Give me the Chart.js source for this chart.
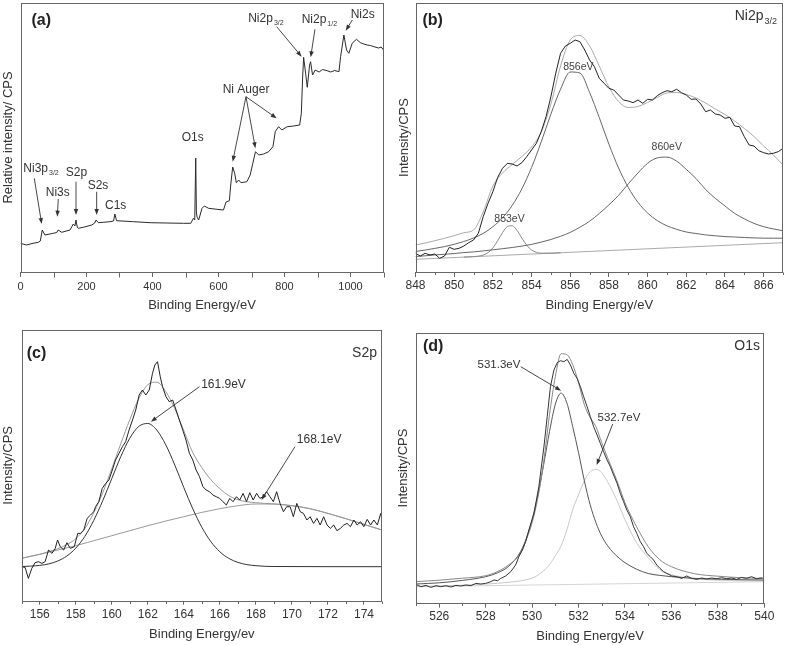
<!DOCTYPE html>
<html>
<head>
<meta charset="utf-8">
<script src="https://cdn.jsdelivr.net/npm/chart.js@4.4.0/dist/chart.umd.min.js"></script>
<style>
  body { margin: 0; background: #fff; width: 785px; height: 645px; position: relative; overflow: hidden; }
  .panel { position: absolute; }
</style>
</head>
<body>
<div class="panel" style="left:0;top:0;width:392px;height:320px"><canvas id="pa"></canvas></div>
<div class="panel" style="left:392px;top:0;width:393px;height:320px"><canvas id="pb"></canvas></div>
<div class="panel" style="left:0;top:320px;width:392px;height:325px"><canvas id="pc"></canvas></div>
<div class="panel" style="left:392px;top:320px;width:393px;height:325px"><canvas id="pd"></canvas></div>
<script>
const FONT = '"Liberation Sans", Arial, Helvetica, sans-serif';
const TXT = '#333';
Chart.defaults.font.family = FONT;
Chart.defaults.color = TXT;

// ---- (a) survey spectrum: [binding energy, intensity] ----
const surveyRaw = [[0,28.7],[18,27],[38,28.7],[54,29.7],[60,31],[66,42],[74,37],[99,38.7],[110,39.5],[114,42],[125,39.7],
  [150,42],[160,48],[165,46],[168,52],[172,45],[175,43.7],[190,44.7],[216,47],[225,49],[229,52],[236,49.3],[251,49.7],
  [271,50.3],[282,51],[286,58],[291,51.3],[342,50.3],[393,49.3],[443,49],[494,48.7],[516,48.7],[524,53.7],[528,52],
  [531,114],[533,60],[535,55],[540,52],[550,63.7],[557,66],[570,63.7],[595,62.7],[615,62],[623,70],[633,71.3],[637,87],
  [643,105],[649,98.7],[654,89.3],[661,92],[668,89.3],[686,90.3],[696,97],[704,108.7],[712,120.3],[722,117],[737,118],
  [752,120.3],[765,125.3],[772,140.3],[782,145.3],[792,142],[808,145.3],[828,146],[846,147],[851,158.7],[855,195],
  [858,214.7],[864,198.7],[869,184.7],[876,207],[879,210.3],[885,197],[893,202],[905,200],[915,202.5],[929,201.3],
  [940,200],[952,201.5],[965,200.3],[970,215.3],[980,237],[988,222],[995,218.7],[1005,228.7],[1018,232.7],[1030,229.3],
  [1040,228],[1051,227],[1060,226.5],[1071,225.3],[1085,224],[1093,225],[1100,222]];
const surveyTicks = [0, 200, 400, 600, 800, 1000];
const surveyMinor = [100, 300, 500, 700, 900, 1100];

// ---- (b) Ni2p3/2 ----
const niRawE = [848,848.25,848.5,848.75,849,849.25,849.5,849.75,850,850.25,850.5,850.75,851,851.25,851.5,851.75,852,852.25,
  852.5,852.75,853,853.25,853.5,853.75,854,854.25,854.5,854.75,855,855.25,855.5,855.75,856,856.25,856.5,856.75,857,857.25,
  857.5,857.75,858,858.25,858.5,858.75,859,859.25,859.5,859.75,860,860.25,860.5,860.75,861,861.25,861.5,861.75,862,862.25,
  862.5,862.75,863,863.25,863.5,863.75,864,864.25,864.5,864.75,865,865.25,865.5,865.75,866,866.25,866.5,866.75,867];
const niRawI = [18.7,16,18.7,17,18,13.7,16,24.7,22.7,23.7,26,29.3,32,38.7,55.3,68.7,80.3,94.7,103.7,108.7,
  108,106,109.3,115.3,122,128.7,140.3,155.3,175.3,198.7,218.7,226,228.7,232,230.3,222,212,205.3,193.7,188.7,
  183.7,182,177,172,171,169.3,172,168.7,172.7,172,176.3,179.3,181.3,180.3,182.7,179.3,177,172.7,173,168,
  160.3,162,158,157,153.7,154.7,146,145.3,135.3,127,126,121.3,119.3,118,118.7,120.3,123.7];
const niFitE = [848,848.5,849,849.5,850,850.5,851,851.5,852,852.5,853,853.5,854,854.5,855,855.5,856,856.5,857,857.5,
  858,858.5,859,859.5,860,860.5,861,861.5,862,862.5,863,863.5,864,864.5,865,865.5,866,866.5,867];
const niEnvelope = [27,29,31.3,33.7,36.3,39.3,42,60,86,99,107.5,115.5,125,140,168,206,232,236.5,226,206,
  185,170.5,164.5,165.5,169.5,174.5,179,179.5,177.5,174,169,163,157.5,151,143.5,135.5,126,117,107];
const ni856 = [20.5,22.0,23.6,25.4,27.7,30.5,34.0,38.6,45.3,54.2,66.6,83.2,104.5,130.1,157.9,182.8,200,199,179.6,154.5,
  127.8,104.0,84.6,69.7,59.0,51.4,46.2,42.7,40.0,38.5,37.1,36.2,35.4,35.0,34.5,34.1,33.8,33.8,33.8];
const ni860 = [15.5,16.2,17.1,17.7,18.5,19.4,20.1,21.1,22.2,23.3,24.5,25.9,27.6,29.9,32.5,35.7,39.6,44.8,50.7,58.5,
  67.1,76.7,88.1,99.0,108.7,114.1,114.9,110.9,102.6,93.5,82.5,73.7,66.0,58.6,53.2,48.6,45.3,43.1,41.2];
const ni853E = [850.5,851,851.5,851.75,852,852.25,852.5,852.75,853,853.25,853.5,853.75,854,854.5,855,855.5];
const ni853 = [14.9,15.4,16.9,19.4,24.1,31.3,39.4,45.4,46.2,41.6,33.9,26.8,22.0,18.8,18.8,19.2];
const niBaseE = [848, 867];
const niBase = [12.7, 29.3];
const niTicks = [848,850,852,854,856,858,860,862,864,866];
const niMinor = [849,851,853,855,857,859,861,863,865,867];

// ---- (c) S2p ----
const sRaw = [[155,34],[155.19,33.3],[155.37,22.3],[155.56,32.3],[155.74,38],[155.93,39],[156.12,37.3],[156.3,39],
  [156.49,50.7],[156.68,47.3],[156.86,52.3],[156.99,60.7],[157.14,54],[157.33,50.7],[157.51,58],[157.7,52.3],[157.92,54],
  [158.11,67.3],[158.26,67.3],[158.45,70.7],[158.63,82.3],[158.82,85.7],[159,89],[159.1,94],[159.28,99],[159.47,112.3],
  [159.66,117.3],[159.84,120.7],[160.03,130.7],[160.21,140.7],[160.4,147.3],[160.59,154],[160.77,159],[160.96,170.7],
  [161.15,180.7],[161.33,190.7],[161.52,205.7],[161.7,210.7],[161.89,205.7],[162.08,210.7],[162.26,227.3],[162.39,235.7],
  [162.54,239],[162.69,224],[162.82,214],[163.01,204],[163.19,199],[163.38,200.7],[163.57,190.7],[163.75,180.7],
  [163.94,170.7],[164.12,160.7],[164.31,147.3],[164.5,140.7],[164.68,130.7],[164.87,124],[165.06,114],[165.24,110.7],
  [165.43,109],[165.61,105.7],[165.8,104],[165.99,102.3],[166.17,99],[166.36,95.7],[166.55,102.3],[166.73,99],
  [166.92,104],[167.1,100.7],[167.29,107.3],[167.48,99],[167.66,108],[167.85,100.7],[168.04,107.3],[168.22,102.3],
  [168.41,104],[168.59,109],[168.78,104],[168.97,99],[169.15,109],[169.34,97.3],[169.53,89],[169.71,94],[169.9,94],
  [170.08,84],[170.27,97.3],[170.46,89],[170.64,87.3],[170.83,80.7],[171.01,84],[171.2,77.3],[171.39,82.3],
  [171.57,75.7],[171.76,84],[171.95,75.7],[172.13,72.3],[172.32,75.7],[172.5,70],[172.69,72.3],[172.88,75.7],
  [173.06,77.3],[173.25,74],[173.44,80.7],[173.62,75.7],[173.81,79],[173.99,74],[174.18,81.3],[174.37,75.7],
  [174.55,80.7],[174.74,75.7],[174.93,87.3],[175,80.7]];
const sGaussE = [155,155.5,156,156.5,157,157.5,158,158.5,159,159.5,160,160.5,161,161.5,162,162.5,163,163.5,164,164.5,
  165,165.5,166,166.5,167,167.5,168,168.5,169,175];
const sGauss = [34.2,34.6,35.3,36.8,39.7,44.6,52.5,64.2,80.3,100.1,122.1,144.1,162.5,174.3,177.2,170.6,155.8,135.6,113.1,91.8,
  73.4,59.1,48.9,42.3,38.3,36.1,35.0,34.4,34.2,34];
const sBroadE = [155,156,157,158,159,160,161,162,163,164,165,166,167,168,169,170,171,172,173,174,175];
const sBroad = [42.3,46.3,50.7,55,60,65,70,75,79.7,84,88.3,92,95,96.7,96.7,95,92,87.3,82,76.3,70.7];
const sEnvE = [155,155.5,156,156.5,157,157.5,158,158.5,159,159.5,160,160.5,161,161.5,162,162.5,163,163.5,164,164.5,
  165,165.5,166,166.5,167,167.5,168,168.5,169,170,171,172,173,174,175];
const sEnvelope = [42.5,44.5,46.5,49,52,56,62,72,88,108,132,157,181,202,216,218.5,209,192,170,148,
  133,121,112,105,101,99,98,97.3,96.7,95,92,87.3,82,76.3,70.7];
const sTicks = [156,158,160,162,164,166,168,170,172,174];
const sMinor = [155,157,159,161,163,165,167,169,171,173,175];

// ---- (d) O1s ----
const oRaw = [[525,18.3],[525.21,16],[525.43,17.3],[525.64,15.3],[525.86,17],[526.07,16],[526.29,17],[526.5,15.7],
  [526.72,17.3],[526.93,16.7],[527.15,17.7],[527.36,17],[527.58,19.3],[527.79,18.7],[528,19.3],[528.22,21],[528.36,22.7],
  [528.51,22],[528.65,24.3],[528.86,26.7],[529.08,31],[529.29,37.7],[529.43,46],[529.58,52.7],[529.72,61],[529.86,72.7],
  [530.08,89.3],[530.29,116],[530.51,156],[530.65,186],[530.79,216],[530.94,232.7],[531.08,240],[531.22,242],[531.37,241],
  [531.51,243.3],[531.65,237.7],[531.8,229.3],[531.94,224.3],[532.08,216],[532.22,206],[532.37,196],[532.51,186],
  [532.65,176],[532.8,167.7],[532.94,159.3],[533.08,151],[533.23,142.7],[533.37,136],[533.51,127.7],[533.66,119.3],
  [533.8,109.3],[533.94,101],[534.08,92.7],[534.23,86],[534.37,76],[534.51,69.3],[534.66,61],[534.8,56],[534.94,49.3],
  [535.09,46],[535.23,42.7],[535.37,37.7],[535.51,34.3],[535.66,31],[535.8,29.3],[536.02,26.7],[536.23,26],[536.44,24.3],
  [536.66,26.7],[536.87,24.3],[537.09,23.3],[537.3,24.7],[537.52,23.7],[537.73,24.7],[537.95,24],[538.16,25],[538.38,24],
  [538.59,24.7],[538.81,23.3],[539.02,25.3],[539.23,24.3],[539.45,26],[539.66,24],[539.92,25]];
const oFitE = [525,526,527,528,528.5,529,529.5,529.75,530,530.25,530.5,530.75,531,531.25,531.5,531.75,532,532.25,532.5,
  532.75,533,533.25,533.5,533.75,534,534.5,535,535.5,536,537,538,539,540];
const o531 = [18.7,19.9,22.3,26.0,29.8,36.5,51.0,64.1,82.8,107.8,138.3,171.1,198.4,209.6,199.5,176,150,122,98,
  80,66.5,57,50,44.5,40,33.5,29.2,27.3,26,24.3,23.5,23,22.7];
const o532 = [16.3,16.8,17.5,18.6,19.4,20.5,21.8,23,24.5,27.5,32,38,47,57,73,93,108,122,131,
  133.3,130,121,110,97,83,60,45,33,28,24,22.5,22,21.8];
const oEnvelope = [21,22.5,24.5,27,31,38,49.3,63,80,105,141,188,226,249,248,238,220,198,185,
  176,160,145,131,116,100,76,56,43,36,29,26.5,25,24];
const oBaseE = [525, 540];
const oBase = [16, 21];
const oTicks = [526,528,530,532,534,536,538,540];
const oMinor = [525,527,529,531,533,535,537,539];

function zip(xs, ys) { return xs.map((x, i) => [x, ys[i]]); }

function line(pairs, color, width, smooth) {
  return {
    data: pairs.map(p => ({x: p[0], y: p[1]})),
    showLine: true, borderColor: color, borderWidth: width, pointRadius: 0, fill: false,
    tension: 0, cubicInterpolationMode: smooth ? 'monotone' : 'default'
  };
}

function drawText(ctx, x, y, main, sub, size, align) {
  ctx.font = size + 'px ' + FONT;
  const w1 = ctx.measureText(main).width;
  const subSize = Math.round(size * 0.62);
  ctx.font = subSize + 'px ' + FONT;
  const w2 = sub ? ctx.measureText(sub).width + 1 : 0;
  let sx = x;
  if (align === 'right') sx = x - w1 - w2;
  if (align === 'center') sx = x - (w1 + w2) / 2;
  ctx.textAlign = 'left';
  ctx.textBaseline = 'middle';
  ctx.font = size + 'px ' + FONT;
  ctx.fillText(main, sx, y);
  if (sub) {
    ctx.font = subSize + 'px ' + FONT;
    ctx.fillText(sub, sx + w1 + 1, y + size * 0.38);
  }
}

function arrow(ctx, x1, y1, x2, y2) {
  const ang = Math.atan2(y2 - y1, x2 - x1);
  const c = Math.cos(ang), s = Math.sin(ang);
  ctx.beginPath();
  ctx.moveTo(x1, y1);
  ctx.lineTo(x2 - 3 * c, y2 - 3 * s);
  ctx.stroke();
  ctx.beginPath();
  ctx.moveTo(x2, y2);
  ctx.lineTo(x2 - 6 * c + 2.2 * s, y2 - 6 * s - 2.2 * c);
  ctx.lineTo(x2 - 6 * c - 2.2 * s, y2 - 6 * s + 2.2 * c);
  ctx.closePath();
  ctx.fill();
}

// frame, minor ticks, panel letters and peak labels
const marks = {
  id: 'marks',
  afterDraw(chart, args, o) {
    const {ctx, chartArea: a, scales: {x, y}} = chart;
    ctx.save();
    ctx.strokeStyle = '#666';
    ctx.lineWidth = 1;
    const L = Math.round(a.left) + 0.5, R = Math.round(a.right) - 0.5;
    const T = Math.round(a.top) + 0.5, B = Math.round(a.bottom) + 0.5;
    ctx.strokeRect(L, T, R - L, B - T);
    ctx.beginPath();
    o.minor.forEach(v => {
      const px = Math.round(x.getPixelForValue(v)) + 0.5;
      ctx.moveTo(px, B);
      ctx.lineTo(px, B + o.minorLen);
    });
    ctx.stroke();

    ctx.fillStyle = '#222';
    ctx.font = 'bold 16px ' + FONT;
    ctx.textAlign = 'left';
    ctx.textBaseline = 'middle';
    ctx.fillText(o.letter, a.left + o.letterAt[0], a.top + o.letterAt[1]);
    ctx.fillStyle = TXT;
    if (o.tag) drawText(ctx, a.right + o.tag.dx, a.top + o.tag.dy, o.tag.t, o.tag.sub, 14, 'right');

    ctx.strokeStyle = '#333';
    ctx.fillStyle = '#333';
    ctx.lineWidth = 0.9;
    (o.arrows || []).forEach(r => arrow(ctx,
      x.getPixelForValue(r[0]), y.getPixelForValue(r[1]),
      x.getPixelForValue(r[2]), y.getPixelForValue(r[3])));
    ctx.fillStyle = o.noteColor || TXT;
    (o.notes || []).forEach(n => drawText(ctx, x.getPixelForValue(n.x), y.getPixelForValue(n.y),
      n.t, n.sub, o.noteSize, o.noteAlign));
    ctx.restore();
  }
};

function panel(id, o) {
  return new Chart(document.getElementById(id), {
    type: 'scatter',
    data: { datasets: o.sets },
    options: {
      responsive: true,
      maintainAspectRatio: false,
      animation: false,
      events: [],
      layout: { padding: { top: o.padTop, right: o.padRight, bottom: 0, left: 0 } },
      plugins: { legend: { display: false }, tooltip: { enabled: false }, marks: o.marks },
      scales: {
        x: {
          type: 'linear', min: o.xMin, max: o.xMax,
          afterFit: s => { s.height = o.xH; },
          afterBuildTicks: s => { s.ticks = o.ticks.map(v => ({value: v})); },
          grid: { drawOnChartArea: false, drawTicks: true, tickLength: o.tickLen, color: '#666' },
          border: { display: false },
          ticks: { font: { size: o.tickSize }, color: TXT, padding: o.tickPad, maxRotation: 0, autoSkip: false,
                   callback: v => String(v) },
          title: { display: true, text: o.xTitle, font: { size: 13 }, color: TXT,
                   padding: { top: 0, bottom: o.xTitlePad } }
        },
        y: {
          type: 'linear', min: 0, max: o.yMax,
          afterFit: s => { s.width = o.yW; },
          grid: { display: false },
          border: { display: false },
          ticks: { display: false },
          title: { display: true, text: o.yTitle, font: { size: 13 }, color: TXT,
                   padding: { top: o.yTitlePad, bottom: 0 } }
        }
      }
    },
    plugins: [marks]
  });
}

panel('pa', {
  sets: [line(surveyRaw, '#2a2a2a', 1, false)],
  xMin: 0, xMax: 1100, yMax: 269, ticks: surveyTicks,
  padTop: 3, padRight: 8.5, xH: 48, yW: 20.5,
  tickLen: 5, tickSize: 11, tickPad: 3, xTitlePad: 7.2, yTitlePad: 0.2,
  xTitle: 'Binding Energy/eV', yTitle: 'Relative intensity/ CPS',
  marks: {
    minor: surveyMinor, minorLen: 5, letter: '(a)', letterAt: [11, 18], noteSize: 12, noteAlign: 'left',
    notes: [
      {x: 8.5, y: 103, t: 'Ni3p', sub: '3/2'}, {x: 76.4, y: 79.5, t: 'Ni3s'}, {x: 137, y: 99, t: 'S2p'},
      {x: 203.6, y: 86, t: 'S2s'}, {x: 256, y: 66.2, t: 'C1s'}, {x: 488.4, y: 134.3, t: 'O1s'},
      {x: 612.7, y: 182, t: 'Ni Auger'}, {x: 690, y: 253, t: 'Ni2p', sub: '3/2'},
      {x: 852, y: 252, t: 'Ni2p', sub: '1/2'}, {x: 1000.5, y: 257.7, t: 'Ni2s'}
    ],
    arrows: [
      [41.8, 93.7, 64.2, 48], [114.5, 73, 111.5, 55.3], [168.2, 90.3, 168.2, 57], [230.8, 80.3, 230.8, 57],
      [683.3, 175.3, 643, 110.3], [683.3, 175.3, 711.8, 123.7], [683.3, 175.3, 776.3, 153.7],
      [776.3, 245.3, 852, 215.3], [892.3, 242.7, 879.3, 214.7], [1005.4, 252, 985.4, 241.3]
    ]
  }
});

panel('pb', {
  sets: [
    line(zip(niRawE, niRawI), '#222', 1, false),
    line(zip(niFitE, niEnvelope), '#aaa', 1, true),
    line(zip(niFitE, ni856), '#666', 1, true),
    line(zip(niFitE, ni860), '#666', 1, true),
    line(zip(ni853E, ni853), '#888', 1, true),
    line(zip(niBaseE, niBase), '#aaa', 1, false)
  ],
  xMin: 848, xMax: 867, yMax: 269, ticks: niTicks,
  padTop: 3, padRight: 2, xH: 48, yW: 23.5,
  tickLen: 5, tickSize: 12, tickPad: 1.5, xTitlePad: 7.2, yTitlePad: 4.2,
  xTitle: 'Binding Energy/eV', yTitle: 'Intensity/CPS',
  marks: {
    minor: niMinor, minorLen: 2.5, letter: '(b)', letterAt: [7, 18], noteSize: 10.5, noteAlign: 'center', noteColor: '#444',
    tag: {t: 'Ni2p', sub: '3/2', dx: -6, dy: 13},
    notes: [{x: 856.42, y: 205, t: '856eV'}, {x: 860.99, y: 125, t: '860eV'}, {x: 852.86, y: 53, t: '853eV'}]
  }
});

panel('pc', {
  sets: [
    line(sRaw, '#222', 1, false),
    line(zip(sGaussE, sGauss), '#333', 1, true),
    line(zip(sEnvE, sEnvelope), '#999', 1, true),
    line(zip(sBroadE, sBroad), '#999', 1, true)
  ],
  xMin: 155, xMax: 175, yMax: 270.7, ticks: sTicks,
  padTop: 10, padRight: 10, xH: 44.3, yW: 21.7,
  tickLen: 4, tickSize: 12, tickPad: 2.8, xTitlePad: 3.2, yTitlePad: 0.9,
  xTitle: 'Binding Energy/ev', yTitle: 'Intensity/CPS',
  marks: {
    minor: sMinor, minorLen: 2.5, letter: '(c)', letterAt: [5, 24], noteSize: 12, noteAlign: 'left',
    tag: {t: 'S2p', dx: -5, dy: 23},
    notes: [{x: 164.96, y: 215.7, t: '161.9eV'}, {x: 170.27, y: 160.7, t: '168.1eV'}],
    arrows: [[164.87, 214, 162.17, 179], [170.17, 154, 168.31, 100.7]]
  }
});

panel('pd', {
  sets: [
    line(oRaw, '#333', 1, false),
    line(zip(oFitE, oEnvelope), '#888', 1, true),
    line(zip(oFitE, o531), '#555', 1, true),
    line(zip(oFitE, o532), '#c8c8c8', 1, true),
    line(zip(oBaseE, oBase), '#d5d5d5', 1, false)
  ],
  xMin: 525, xMax: 540, yMax: 269.4, ticks: oTicks,
  padTop: 13.3, padRight: 20.7, xH: 42.3, yW: 24,
  tickLen: 5, tickSize: 12, tickPad: 2.1, xTitlePad: 1.2, yTitlePad: 3.9,
  xTitle: 'Binding Energy/eV', yTitle: 'Intensity/CPS',
  marks: {
    minor: oMinor, minorLen: 2.5, letter: '(d)', letterAt: [7, 13.5], noteSize: 11.5, noteAlign: 'left',
    tag: {t: 'O1s', dx: -4.3, dy: 12.5},
    notes: [{x: 527.65, y: 237.7, t: '531.3eV'}, {x: 532.82, y: 185, t: '532.7eV'}],
    arrows: [[529.51, 236, 531.25, 212], [533.47, 178.7, 532.78, 137.7]]
  }
});
</script>
</body>
</html>
